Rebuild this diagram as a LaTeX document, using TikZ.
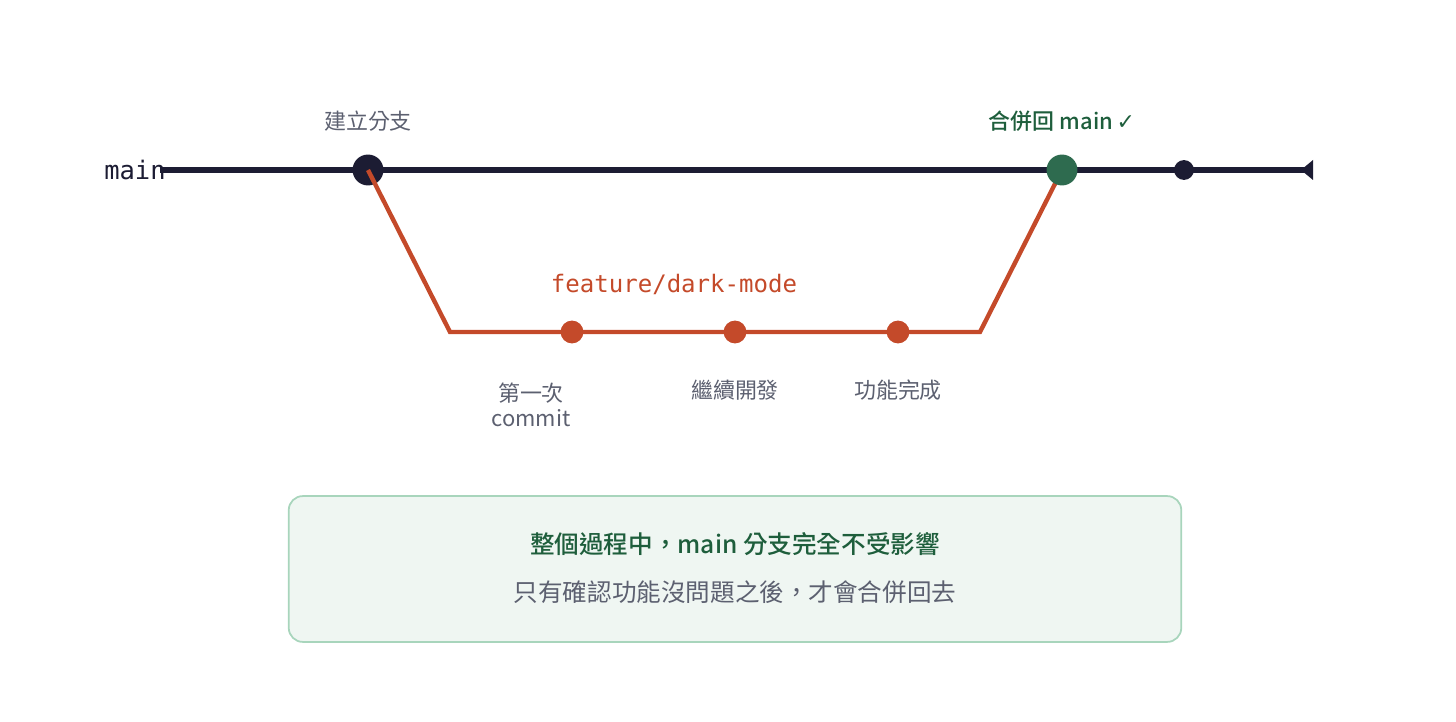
\documentclass[tikz,border=0pt]{standalone}
\usepackage{fontspec}
\setmainfont{Noto Sans CJK TC}
\setmonofont{DejaVu Sans Mono}
\newfontfamily\medfont{Noto Sans CJK TC Medium}
\newfontfamily\symfont{DejaVu Sans}
\usetikzlibrary{arrows.meta,positioning}
\definecolor{gtnavy}{HTML}{1C1C33}
\definecolor{gtorange}{HTML}{C44A2A}
\definecolor{gtgreen}{HTML}{2E6B4F}
\definecolor{gttext}{HTML}{1E5E3C}
\definecolor{gtgray}{HTML}{5C6070}
\definecolor{gtfill}{HTML}{EFF6F2}
\definecolor{gtedge}{HTML}{A8D5BC}

\begin{document}
\begin{tikzpicture}[
  x=0.02cm, y=-0.02cm,
  mainline/.style={gtnavy, line width=2.9pt},
  branchline/.style={gtorange, line width=2.5pt},
  bigdot/.style={circle, inner sep=0pt, minimum size=17.6pt},
  commitdot/.style={circle, fill=gtorange, inner sep=0pt, minimum size=13pt},
  smalldot/.style={circle, fill=gtnavy, inner sep=0pt, minimum size=11.3pt},
  steplabel/.style={font=\fontsize{12.5}{15}\selectfont, text=gtgray, align=center},
  notebox/.style={draw=gtedge, line width=1pt, fill=gtfill, rounded corners=8pt,
    minimum width=508pt, minimum height=83pt},
]
  \useasboundingbox (0,0) rectangle (1456,722);

  % 主線 main
  \node[font=\ttfamily\fontsize{14.5}{16}\selectfont, text=gtnavy] (mainlbl) at (135,170) {main};
  \coordinate (mainstart) at (160,170);
  \coordinate (mainend) at (1313,170);
  \draw[mainline] (mainstart) -- (mainend);
  \fill[gtnavy] (mainend) ++(0,-10) -- ++(0,20) -- ++(-12,-10) -- cycle;

  % 建立分支
  \node[bigdot, fill=gtnavy] (fork) at (368,170) {};
  \node[steplabel] (forklbl) at (368,121) {建立分支};

  % 分支上的 commit
  \coordinate (bl) at (450,332);
  \coordinate (br) at (980,332);
  \coordinate (mergept) at (1062,170);
  \draw[branchline] (fork.center) -- (bl) -- (br) -- (mergept);
  \foreach \x/\name in {572/c1, 735/c2, 898/c3} {
    \node[commitdot] (\name) at (\x,332) {};
  }
  \node[font=\ttfamily\fontsize{13.7}{16}\selectfont, text=gtorange] (featlbl) at (674,284) {feature/dark-mode};

  % 合併回 main
  \node[bigdot, fill=gtgreen] (merge) at (mergept) {};
  \node[smalldot] (after) at (1184,170) {};
  \node[steplabel, font=\medfont\fontsize{12.5}{15}\selectfont, text=gttext] (mergelbl) at (1062,121) {合併回 main\,{\symfont ✓}};

  % commit 說明
  \node[steplabel, anchor=north] (c1lbl) at (531,377) {第一次\\[-1pt]commit};
  \node[steplabel] (c2lbl) at (735,390) {繼續開發};
  \node[steplabel] (c3lbl) at (898,390) {功能完成};

  % 下方說明框
  \node[notebox] (note) at (735,569) {};
  \node[font=\medfont\fontsize{14}{16}\selectfont, text=gttext] (notetitle) at (735,544) {整個過程中，main 分支完全不受影響};
  \node[font=\fontsize{14}{16}\selectfont, text=gtgray] (notesub) at (735,592) {只有確認功能沒問題之後，才會合併回去};

\end{tikzpicture}
\end{document}
